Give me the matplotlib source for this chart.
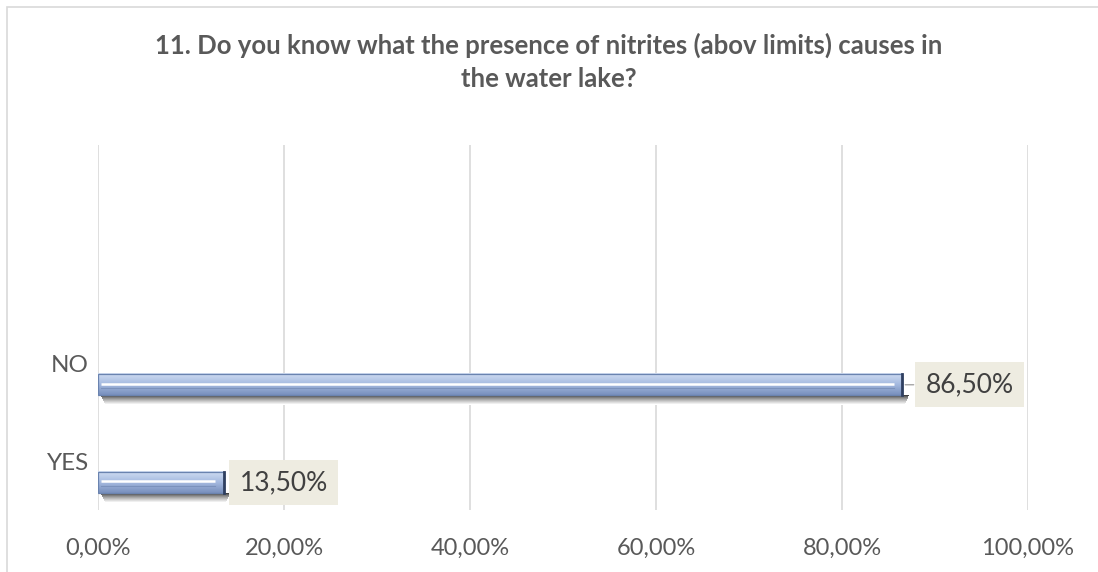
import matplotlib.pyplot as plt
from matplotlib.patches import Rectangle
import numpy as np

plt.rcParams['font.family'] = ['Lato', 'DejaVu Sans']

# Data
categories = ['YES', 'NO']
values = [13.5, 86.5]
value_labels = ['13,50%', '86,50%']
x_ticks = [0, 20, 40, 60, 80, 100]
x_tick_labels = ['0,00%', '20,00%', '40,00%', '60,00%', '80,00%', '100,00%']
title = '11. Do you know what the presence of nitrites (abov limits) causes in\nthe water lake?'

fig = plt.figure(figsize=(10.98, 5.72), dpi=100)
W, H = 1098, 572

# light chart-area border (top and left visible)
fig.patches.append(Rectangle((7 / W, -0.05), 1.2, (H - 7) / H + 0.05, transform=fig.transFigure,
                             fill=False, edgecolor='#D9D9D9', linewidth=1.2))

ax = fig.add_axes([98 / W, 62 / H, 930 / W, 365 / H])

bar_h = 0.215

# vertical gradient for the bar body, row 0 = bottom
t = np.linspace(0, 1, 64)[:, None, None]
bot_c = np.array([0.47, 0.56, 0.74])
mid_c = np.array([0.65, 0.73, 0.88])
top_c = np.array([0.82, 0.87, 0.95])
body = np.where(t < 0.5, bot_c + (mid_c - bot_c) * (t / 0.5), mid_c + (top_c - mid_c) * ((t - 0.5) / 0.5))
body = np.repeat(body, 2, axis=1)

# shadow strips below each bar, dark gray fading to white
n_strips = 10
strip_h = 0.0102
shade = [0.25 + 0.75 * (k / (n_strips - 1)) ** 0.75 for k in range(n_strips)]

for i, (cat, v, lab) in enumerate(zip(categories, values, value_labels)):
    y0 = i - bar_h / 2
    for k, g in enumerate(shade):
        ax.add_patch(Rectangle((0.3 + 0.05 * k, y0 - strip_h * (k + 1)), v + 0.4 - 0.1 * k, strip_h + 0.001,
                               facecolor=(g, g, g), linewidth=0, zorder=2))
    ax.imshow(body, extent=(0, v, y0, y0 + bar_h), origin='lower',
              aspect='auto', zorder=3, interpolation='bilinear')
    ax.add_patch(Rectangle((0, y0), v, bar_h, fill=False, edgecolor='#6A83AF', linewidth=0.9, zorder=4))
    # dark right cap
    ax.plot([v, v], [y0, y0 + bar_h], color='#2F3F60', linewidth=2, zorder=5)
    # highlight stripe
    ax.plot([0.3, v - 0.9], [i + 0.012, i + 0.012], color='white', linewidth=1.8, zorder=5,
            solid_capstyle='butt')
    ax.plot([0.3, v - 0.9], [i - 0.03, i - 0.03], color='#7C92BC', linewidth=0.8, zorder=5)

    # category label above-left of the bar
    ax.annotate(cat, xy=(0, i), xycoords='data', xytext=(-9, 19), textcoords='offset pixels',
                ha='right', va='center', fontsize=17.5, color='#595959')

    # value label box
    if v > 50:
        gap = 14
        ax.annotate('', xy=(v, i), xytext=(v + gap * 100 / 930, i),
                    arrowprops=dict(arrowstyle='-', color='#A6A6A6', lw=1.0))
        off = 67
    else:
        off = 60
    ax.annotate(lab, xy=(v, i), xycoords='data', xytext=(off, 0), textcoords='offset pixels',
                ha='center', va='center', fontsize=19, color='#404040',
                bbox=dict(boxstyle='square,pad=0.38', facecolor='#EEECE1', edgecolor='none'))

ax.set_xlim(0, 100)
ax.set_ylim(-0.28, 3.45)
for sp in ax.spines.values():
    sp.set_visible(False)
ax.set_xticks(x_ticks)
ax.set_xticklabels(x_tick_labels, fontsize=17, color='#595959')
ax.tick_params(axis='x', length=0, pad=20)
ax.set_yticks([])
ax.grid(axis='x', color='#D9D9D9', linewidth=1.2)
ax.set_axisbelow(True)

fig.text(549 / W, 1 - 62 / H, title, ha='center', va='center', fontsize=18.5,
         fontweight='bold', color='#595959', linespacing=1.45)

fig.savefig('out.png', dpi=100)
